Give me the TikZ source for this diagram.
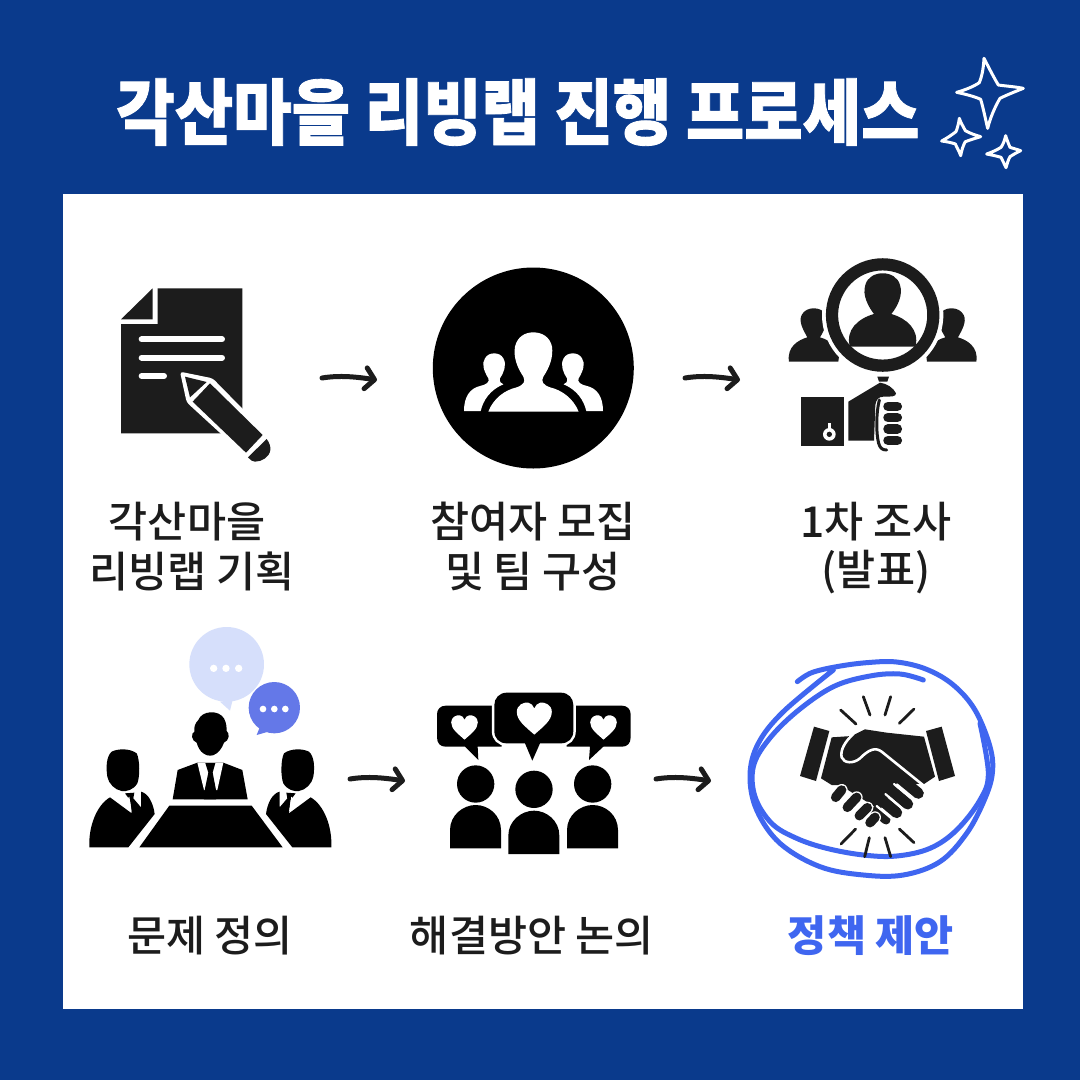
\documentclass[tikz,border=0pt]{standalone}
\usepackage{fontspec}
\usepackage{graphicx}
\usetikzlibrary{arrows.meta}
\newfontfamily\krreg{Noto Sans CJK KR Medium}
\newfontfamily\krblack{Noto Sans CJK KR Black}
\definecolor{navy}{HTML}{0A3A8C}
\definecolor{ink}{HTML}{1C1C1C}
\definecolor{scrib}{HTML}{3F66F0}
\definecolor{bubblelight}{HTML}{D6DFFB}
\definecolor{bubbledark}{HTML}{6478E8}
\tikzset{
  label text/.style={inner sep=0pt,text=ink,font=\krreg\fontsize{42.5}{42.5}\selectfont},
  handarrow/.style={line width=5pt,line cap=round,draw=ink,-{Straight Barb[length=9pt,width=21pt,line width=5pt,round]}},
  zoomed/.style={shift={#1},x=0.33333pt,y=-0.33333pt},
  whitestar/.style={draw=white,line width=3pt,line join=round},
  scribble/.style={draw=scrib,line width=5pt,line cap=round,line join=round},
  ray/.style={draw=ink,line width=2.8pt,line cap=round},
  heart/.pic={\fill[white] (0,0.95) .. controls (-0.5,0.5) and (-1,0.15) .. (-1,-0.35) .. controls (-1,-0.75) and (-0.6,-0.92) .. (-0.35,-0.88) .. controls (-0.2,-0.85) and (-0.05,-0.72) .. (0,-0.55) .. controls (0.05,-0.72) and (0.2,-0.85) .. (0.35,-0.88) .. controls (0.6,-0.92) and (1,-0.75) .. (1,-0.35) .. controls (1,0.15) and (0.5,0.5) .. (0,0.95) -- cycle;},
}
\begin{document}
\begin{tikzpicture}[x=1pt,y=-1pt]
\useasboundingbox (0,0) rectangle (1080,1080);
\fill[navy] (0,0) rectangle (1080,1080);
\fill[white] (63,194) rectangle (1023,1009);

% title
\node[inner sep=0pt,text=white] (title) at (518,112) {\scalebox{1}[1.13]{\krblack\fontsize{63.5}{63.5}\selectfont\addfontfeature{FakeBold=1.2}각산마을 리빙랩 진행 프로세스}};

% stars
\begin{scope}[zoomed={(920,40)}]
\draw[whitestar] (192,55) .. controls (190,90) and (185,110) .. (178,128) .. controls (160,140) and (135,150) .. (110,157) .. controls (135,162) and (165,170) .. (182,178) .. controls (190,205) and (197,240) .. (203,265) .. controls (210,235) and (225,200) .. (240,175) .. controls (260,165) and (285,155) .. (310,145) .. controls (285,140) and (255,138) .. (235,135) .. controls (220,110) and (205,80) .. (192,55) -- cycle;
\draw[whitestar] (118,235) .. controls (116,250) and (112,265) .. (108,275) .. controls (95,285) and (80,295) .. (65,303) .. controls (80,305) and (95,308) .. (106,312) .. controls (112,325) and (118,335) .. (122,347) .. controls (125,330) and (130,315) .. (136,305) .. controls (150,300) and (165,295) .. (182,290) .. controls (165,285) and (150,280) .. (136,272) .. controls (130,260) and (122,248) .. (118,235) -- cycle;
\draw[whitestar] (257,287) .. controls (254,300) and (250,312) .. (243,322) .. controls (230,330) and (215,337) .. (200,342) .. controls (215,345) and (230,348) .. (243,352) .. controls (248,362) and (253,372) .. (258,383) .. controls (262,370) and (265,358) .. (270,350) .. controls (280,343) and (290,338) .. (302,332) .. controls (290,328) and (280,325) .. (270,322) .. controls (265,310) and (260,298) .. (257,287) -- cycle;
\end{scope}

% document icon
\begin{scope}[zoomed={(90,260)}]
\fill[ink] (203,85) -- (457,85) -- (457,520) -- (93,520) -- (93,192) -- (203,192) -- cycle;
\fill[ink] (188,85) -- (93,178) -- (188,178) -- cycle;
\draw[white,line width=6pt,line cap=round] (155,238) -- (396,238) (155,293) -- (396,293) (155,348) -- (222,348);
\fill[white,rounded corners=3pt] (270,335) -- (368,355) -- (528,518) -- (470,592) -- (290,427) -- cycle;
\fill[ink] (285,350) -- (350,366) -- (300,412) -- cycle;
\fill[ink] (360,370) -- (518,525) -- (468,578) -- (308,425) -- cycle;
\fill[ink] (530,537) .. controls (538,548) and (542,558) .. (541,570) .. controls (538,592) and (515,605) .. (495,605) .. controls (488,605) and (480,600) .. (474,592) -- cycle;
\end{scope}

% people in a circle
\fill[black] (533.3,368) circle[radius=100.5];
\begin{scope}[zoomed={(420,310)}]
\path[fill=white] (205,305) .. controls (220,265) and (255,240) .. (290,232) .. controls (310,225) and (318,215) .. (310,200) .. controls (290,170) and (280,140) .. (285,110) .. controls (292,80) and (315,67) .. (340,67) .. controls (365,67) and (390,80) .. (396,110) .. controls (400,140) and (390,170) .. (370,200) .. controls (362,215) and (370,225) .. (390,232) .. controls (425,240) and (460,265) .. (476,305) -- cycle;
\foreach \m/\o in {1/0,-1/681}{
\begin{scope}[shift={(\o,0)},xscale=\m]
\path[fill=white] (132,303) .. controls (132,260) and (150,235) .. (180,228) .. controls (200,224) and (210,215) .. (205,205) .. controls (190,180) and (185,160) .. (195,145) .. controls (205,125) and (240,125) .. (250,145) .. controls (262,165) and (250,190) .. (240,205) .. controls (238,215) and (242,220) .. (250,223) .. controls (210,240) and (190,270) .. (182,303) -- cycle;
\end{scope}}
\end{scope}

% investigation icon
\begin{scope}[zoomed={(770,250)}]
\foreach \m/\o in {1/0,-1/676}{
\begin{scope}[shift={(\o,0)},xscale=\m]
\fill[ink] (57,335) .. controls (50,290) and (85,270) .. (112,262) .. controls (100,240) and (85,215) .. (95,195) .. controls (108,168) and (155,168) .. (168,195) .. controls (175,220) and (160,245) .. (150,262) .. controls (180,270) and (215,295) .. (205,335) -- cycle;
\end{scope}}
\fill[white] (338,195) circle[radius=182];
\draw[ink,line width=12.2pt] (338,195) circle[radius=152];
\fill[ink] (240,290) .. controls (225,240) and (265,205) .. (312,192) .. controls (295,170) and (276,135) .. (286,105) .. controls (298,58) and (378,58) .. (390,105) .. controls (400,135) and (382,170) .. (364,192) .. controls (410,205) and (450,240) .. (436,290) -- cycle;
\fill[ink] (322,380) -- (357,380) -- (352,395) -- (327,395) -- cycle;
\fill[ink] (93,441) rectangle (223,588);
\fill[white] (178,553) circle[radius=19];
\fill[white] (174,520) rectangle (182,540);
\fill[ink] (178,553) circle[radius=8];
\fill[ink] (235,455) -- (330,398) .. controls (350,400) and (372,415) .. (378,430) .. controls (378,440) and (365,440) .. (340,440) .. controls (325,440) and (318,450) .. (316,465) -- (312,572) -- (235,572) -- cycle;
\draw[ink,line width=3pt,line cap=round] (328,450) .. controls (318,490) and (318,550) .. (326,580) .. controls (330,595) and (338,600) .. (350,600);
\foreach \yy in {469,503,537,571}{
  \draw[ink,line width=9.5pt,line cap=round] (354,\yy) -- (382,\yy);
}
\end{scope}

% meeting icon
\begin{scope}[zoomed={(80,620)}]
\fill[bubblelight] (440,133) circle[radius=112];
\fill[bubblelight] (420,245) -- (450,272) -- (458,240) -- cycle;
\fill[bubbledark] (583,263) circle[radius=77];
\fill[bubbledark] (540,320) -- (530,345) -- (565,335) -- cycle;
\foreach \xx in {401,438,476} \fill[white] (\xx,145) circle[radius=11];
\foreach \xx in {549,583,616} \fill[white] (\xx,267) circle[radius=10];
% centre man
\fill[black] (355,300) .. controls (365,272) and (415,268) .. (432,295) .. controls (440,310) and (440,325) .. (440,333) .. controls (450,340) and (448,362) .. (432,368) .. controls (420,400) and (400,408) .. (390,407) .. controls (378,408) and (358,398) .. (350,368) .. controls (334,362) and (332,340) .. (343,335) .. controls (342,320) and (345,310) .. (355,300) -- cycle;
\fill[black] (278,538) -- (293,450) -- (352,428) -- (430,428) -- (487,450) -- (503,538) -- cycle;
\fill[white] (352,428) -- (430,428) -- (412,510) -- (372,510) -- cycle;
\fill[black] (376,429) -- (406,429) -- (398,458) -- (410,520) -- (408,538) -- (372,538) -- (372,520) -- (385,458) -- cycle;
% table
\fill[black] (268,557) -- (515,557) -- (608,682) -- (178,682) -- cycle;
% side men
\foreach \m/\o in {1/0,-1/782}{
\begin{scope}[shift={(\o,0)},xscale=\m]
\fill[black] (95,395) .. controls (115,385) and (150,385) .. (170,400) .. controls (180,420) and (180,470) .. (172,490) .. controls (160,510) and (140,515) .. (125,513) .. controls (105,510) and (85,490) .. (82,470) .. controls (78,445) and (78,410) .. (95,395) -- cycle;
\fill[black] (28,682) .. controls (25,620) and (50,555) .. (90,532) -- (155,580) -- (183,560) -- (183,515) .. controls (205,520) and (220,550) .. (224,582) -- (145,682) -- cycle;
\fill[black] (135,520) -- (163,518) -- (160,535) -- (183,562) -- (155,582) -- (150,540) -- cycle;
\fill[white] (148,530) -- (155,575) -- (128,552) -- cycle;
\end{scope}}
\end{scope}

% discussion icon
\begin{scope}[zoomed={(425,680)}]
\foreach \cx in {152,503}{
  \fill[black] (\cx,312) circle[radius=56];
  \fill[black] (\cx-77,505) -- (\cx-77,450) .. controls (\cx-77,405) and (\cx-37,375) .. (\cx,375) .. controls (\cx+38,375) and (\cx+76,405) .. (\cx+76,450) -- (\cx+76,505) -- cycle;
}
\fill[black] (327,328) circle[radius=56];
\fill[black] (250,522) -- (250,467) .. controls (250,422) and (290,392) .. (327,392) .. controls (365,392) and (403,422) .. (403,467) -- (403,522) -- cycle;
% left bubble
\fill[black] (62,77) -- (230,77) -- (230,200) -- (158,200) -- (160,240) -- (120,200) -- (62,200) .. controls (46,200) and (36,190) .. (36,172) -- (36,103) .. controls (36,88) and (46,77) .. (62,77) -- cycle;
% right bubble
\fill[black] (591,77) -- (425,77) -- (425,200) -- (495,200) -- (492,240) -- (535,200) -- (591,200) .. controls (607,200) and (617,190) .. (617,172) -- (617,103) .. controls (617,88) and (607,77) .. (591,77) -- cycle;
% centre bubble
\fill[black,preaction={draw=white,line width=5pt}] (245,38) -- (408,38) .. controls (430,38) and (445,55) .. (445,75) -- (445,153) .. controls (445,175) and (430,190) .. (408,190) -- (345,190) -- (322,242) -- (300,190) -- (245,190) .. controls (223,190) and (208,175) .. (208,153) -- (208,75) .. controls (208,55) and (223,38) .. (245,38) -- cycle;
\end{scope}
\pic[scale=17.5] at (534.3,718) {heart};
\pic[scale=13.3] at (464.5,727) {heart};
\pic[scale=13.3] at (603.5,727) {heart};

% handshake
\begin{scope}[zoomed={(740,650)}]
\draw[scribble] plot[smooth,tension=0.6] coordinates {(172,95) (215,68) (290,50) (380,38) (470,36) (560,58) (640,105) (705,180) (750,290) (757,370) (733,450) (680,550) (600,635) (490,675) (370,675) (240,650) (120,580) (50,480) (30,375) (55,280) (130,185) (280,60)};
\draw[scribble] plot[smooth,tension=0.6] coordinates {(550,90) (480,72) (390,78) (280,110) (170,185) (85,270) (40,350) (45,440) (95,520) (170,565) (260,595) (370,615) (470,618) (570,595) (650,540) (720,450) (745,370) (720,220)};
\foreach \a/\b/\c/\d in {302/180/348/222,370/140/390/195,452/140/435/195,522/177/478/220,347/537/303/582,388/563/374/620,435/563/452/620,478/537/522/578}{
  \draw[ray] (\a,\b) -- (\c,\d);
}
\fill[ink] (222,230) -- (268,243) -- (228,393) -- (180,378) -- cycle;
\fill[ink] (558,243) -- (605,230) -- (645,378) -- (597,393) -- cycle;
\fill[ink] (275,262) -- (335,258) -- (375,238) -- (440,248) -- (552,260) -- (585,380) -- (552,402) -- (470,400) -- (420,480) -- (300,405) -- (275,405) -- (243,385) -- cycle;
\foreach \a/\b/\c/\d/\w in {535/430/460/368/11,503/462/435/405/11,470/488/415/442/11,438/510/405/482/9}{
  \draw[ink,line width=\w pt,line cap=round] (\a,\b) -- (\c,\d);
}
\draw[white,line width=2.2pt,line cap=round] (462,402) -- (522,452) (436,432) -- (492,480) (410,468) -- (452,503);
\foreach \a/\b/\c/\d in {287/442/305/420,322/472/350/442,358/497/382/473,390/518/405/502}{
  \draw[white,line width=12pt,line cap=round] (\a,\b) -- (\c,\d);
  \draw[ink,line width=9.5pt,line cap=round] (\a,\b) -- (\c,\d);
}
\draw[white,line width=2.6pt,line cap=round,line join=round] (340,252) .. controls (315,275) and (300,300) .. (305,322) .. controls (312,340) and (340,342) .. (360,325) .. controls (385,300) and (405,290) .. (425,305) -- (555,410);
\end{scope}

% arrows
\coordinate (arrowA0) at (322,378); \coordinate (arrowA1) at (377,380);
\coordinate (arrowB0) at (685,378); \coordinate (arrowB1) at (740,380);
\coordinate (arrowC0) at (350,779); \coordinate (arrowC1) at (405,781);
\coordinate (arrowD0) at (656,779); \coordinate (arrowD1) at (711,781);
\foreach \n in {A,B,C,D}{
  \draw[handarrow] (arrow\n0) .. controls +(18,-3) and +(-20,-3) .. (arrow\n1);
}

% labels
\node[label text] (l1a) at (187,522) {각산마을};
\node[label text] (l1b) at (192,571) {리빙랩 기획};
\node[label text] (l2a) at (533,522) {참여자 모집};
\node[label text] (l2b) at (533,572) {및 팀 구성};
\node[label text] (l3a) at (876,522) {1차 조사};
\node[label text] (l3b) at (876,572) {(발표)};
\node[label text] (l4) at (210,936) {문제 정의};
\node[label text] (l5) at (532,936) {해결방안 논의};
\node[inner sep=0pt,text=scrib,font=\krblack\fontsize{42.5}{42.5}\selectfont] (l6) at (871,936) {정책 제안};
\end{tikzpicture}
\end{document}
